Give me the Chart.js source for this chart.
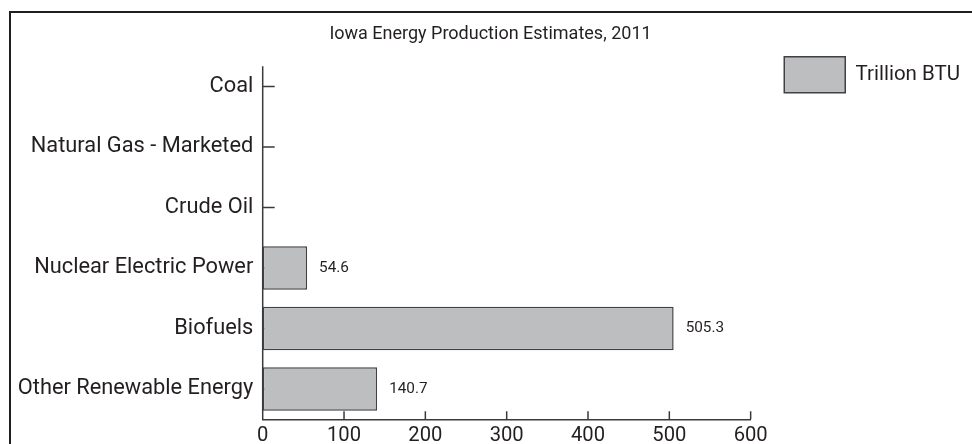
<!DOCTYPE html>
<html>
<head>
<meta charset="utf-8">
<script src="https://cdn.jsdelivr.net/npm/chart.js@4.4.1/dist/chart.umd.min.js"></script>
<style>
  html, body { margin: 0; padding: 0; background: #fff; overflow: hidden; }
  #wrap { position: relative; width: 972px; height: 444px; }
  #frame {
    position: absolute; left: 9px; top: 11px; right: -20px; bottom: -20px;
    border-left: 2px solid #231f20; border-top: 2px solid #231f20;
  }
  canvas { position: absolute; left: 0; top: 0; }
</style>
</head>
<body>
<div id="wrap">
  <div id="frame"></div>
  <canvas id="chart" width="972" height="444"></canvas>
</div>
<script>
// Iowa energy production, 2011 (trillion BTU)
const categories = [
  'Coal',
  'Natural Gas - Marketed',
  'Crude Oil',
  'Nuclear Electric Power',
  'Biofuels',
  'Other Renewable Energy'
];
const trillionBtu = [0, 0, 0, 54.6, 505.3, 140.7];
const seriesName = 'Trillion BTU';
const chartTitle = 'Iowa Energy Production Estimates, 2011';
const xTicks = [0, 100, 200, 300, 400, 500, 600];

const FONT = "Roboto, 'Liberation Sans', Arial, sans-serif";
const INK = '#231f20';
const AXIS = '#3a3a3c';
const BAR_FILL = '#bcbec0';
const BAR_EDGE = '#414042';

// axis line and inward tick marks, drawn underneath the bars
const axisMarks = {
  id: 'axisMarks',
  beforeDatasetsDraw(chart) {
    const { ctx, chartArea, scales: { x, y } } = chart;
    ctx.save();
    ctx.strokeStyle = AXIS;
    ctx.lineWidth = 1.5;
    ctx.beginPath();
    const band = y.getPixelForTick(1) - y.getPixelForTick(0);
    const yTop = y.getPixelForTick(0) - band / 3;
    ctx.moveTo(x.left, yTop);
    ctx.lineTo(x.left, chartArea.bottom);
    y.ticks.forEach((t, i) => {
      const py = y.getPixelForTick(i);
      ctx.moveTo(x.left, py);
      ctx.lineTo(x.left + 12, py);
    });
    x.ticks.forEach((t, i) => {
      const px = x.getPixelForTick(i);
      ctx.moveTo(px, chartArea.bottom);
      ctx.lineTo(px, chartArea.bottom - 8);
    });
    ctx.stroke();
    ctx.restore();
  }
};

// value printed just past the end of each bar
const valueLabels = {
  id: 'valueLabels',
  afterDatasetsDraw(chart) {
    const { ctx } = chart;
    ctx.save();
    ctx.fillStyle = INK;
    ctx.font = '15.3px ' + FONT;
    ctx.textAlign = 'left';
    ctx.textBaseline = 'middle';
    chart.getDatasetMeta(0).data.forEach((bar, i) => {
      const v = trillionBtu[i];
      if (!v) return;
      ctx.fillText(v.toFixed(1), bar.x + 12, bar.y);
    });
    ctx.restore();
  }
};

new Chart(document.getElementById('chart'), {
  type: 'bar',
  data: {
    labels: categories,
    datasets: [{
      label: seriesName,
      data: trillionBtu,
      backgroundColor: BAR_FILL,
      borderColor: BAR_EDGE,
      borderWidth: 1.5,
      borderSkipped: false,
      categoryPercentage: 0.72,
      barPercentage: 1.0
    }]
  },
  options: {
    indexAxis: 'y',
    responsive: false,
    animation: false,
    events: [],
    layout: { padding: { left: 11, right: 2, top: 0, bottom: 0 } },
    plugins: {
      title: {
        display: true,
        text: chartTitle,
        color: INK,
        font: { family: FONT, size: 18, weight: 'normal' },
        padding: { top: 23.5, bottom: 11.15 }
      },
      legend: {
        display: true,
        position: 'right',
        align: 'start',
        title: { display: true, text: '', font: { size: 12 }, padding: 4.35 },
        labels: {
          boxWidth: 61,
          boxHeight: 36,
          padding: 33.6,
          color: INK,
          font: { family: FONT, size: 20.5 }
        }
      },
      tooltip: { enabled: false }
    },
    scales: {
      x: {
        min: 0,
        max: 600,
        afterBuildTicks(scale) { scale.ticks = xTicks.map(v => ({ value: v })); },
        afterFit(scale) { scale.height = 24.75; },
        grid: { display: false, drawTicks: false },
        border: { display: true, color: AXIS, width: 1.5 },
        ticks: { color: INK, padding: 5, font: { family: FONT, size: 20.2 } }
      },
      y: {
        afterFit(scale) { scale.width = 251.7; },
        grid: { display: false, drawTicks: false },
        border: { display: false },
        ticks: { color: INK, padding: 9.4, font: { family: FONT, size: 21.8 } }
      }
    }
  },
  plugins: [axisMarks, valueLabels]
});
</script>
</body>
</html>
